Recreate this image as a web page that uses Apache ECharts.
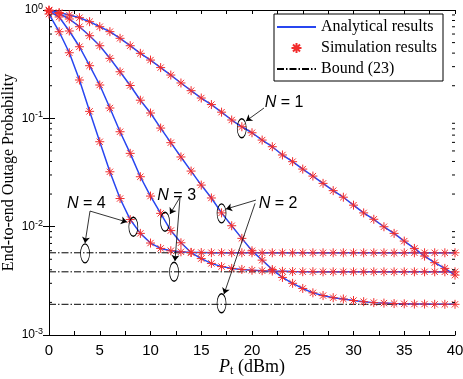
<!DOCTYPE html>
<html>
<head>
<meta charset="utf-8">
<script src="https://cdn.jsdelivr.net/npm/echarts@6/dist/echarts.min.js"></script>
<style>
html, body { margin: 0; padding: 0; background: #fff; }
#chart { width: 463px; height: 379px; }
</style>
</head>
<body>
<div id="chart"></div>
<script>
// transmit power P_t (dBm)
const pt = [0, 1, 2, 3, 4, 5, 6, 7, 8, 9, 10, 11, 12, 13, 14, 15, 16, 17, 18, 19, 20,
  21, 22, 23, 24, 25, 26, 27, 28, 29, 30, 31, 32, 33, 34, 35, 36, 37, 38, 39, 40];

// end-to-end outage probability, one array per N
const outN1 = [1.0, 0.948, 0.899, 0.849, 0.780, 0.701, 0.631, 0.548, 0.468, 0.398, 0.345,
  0.294, 0.251, 0.212, 0.180, 0.154, 0.134, 0.114, 0.0965, 0.0836, 0.0736,
  0.0630, 0.0547, 0.0459, 0.0398, 0.0340, 0.0293, 0.0251, 0.0215, 0.0187, 0.0158,
  0.0134, 0.0117, 0.00998, 0.00867, 0.00736, 0.00630, 0.00535, 0.00465, 0.00412, 0.00357];
const outN2 = [0.99, 0.928, 0.826, 0.701, 0.579, 0.468, 0.358, 0.269, 0.201, 0.147, 0.112,
  0.0813, 0.0596, 0.0440, 0.0326, 0.0242, 0.0184, 0.0134, 0.0102, 0.00780, 0.00599,
  0.00491, 0.00402, 0.00340, 0.00300, 0.00269, 0.00245, 0.00231, 0.00221, 0.00215, 0.00208,
  0.00203, 0.00199, 0.00197, 0.00195, 0.00194, 0.00193, 0.00193, 0.00192, 0.00192, 0.00192];
const outN3 = [0.979, 0.862, 0.640, 0.458, 0.306, 0.203, 0.1245, 0.0752, 0.0475, 0.0289, 0.01916,
  0.01327, 0.00920, 0.00710, 0.00577, 0.00507, 0.00458, 0.00428, 0.00412, 0.00403, 0.00396,
  0.00392, 0.00389, 0.00387, 0.00385, 0.00384, 0.00384, 0.00383, 0.00383, 0.00383, 0.00383,
  0.00383, 0.00383, 0.00383, 0.00383, 0.00383, 0.00383, 0.00383, 0.00383, 0.00383, 0.00383];
const outN4 = [0.918, 0.630, 0.403, 0.2258, 0.1160, 0.0608, 0.0321, 0.01818, 0.01163, 0.00867, 0.00706,
  0.00630, 0.00599, 0.00586, 0.00579, 0.00577, 0.00575, 0.00575, 0.00574, 0.00574, 0.00574,
  0.00574, 0.00574, 0.00574, 0.00574, 0.00574, 0.00574, 0.00574, 0.00574, 0.00574, 0.00574,
  0.00574, 0.00574, 0.00574, 0.00574, 0.00574, 0.00574, 0.00574, 0.00574, 0.00574, 0.00574];

// error floors, bound (23)
const bounds = [0.00574, 0.00383, 0.00192];

// minor ticks of the log axis
const yMinor = [0.002, 0.003, 0.004, 0.005, 0.006, 0.007, 0.008, 0.009,
  0.02, 0.03, 0.04, 0.05, 0.06, 0.07, 0.08, 0.09,
  0.2, 0.3, 0.4, 0.5, 0.6, 0.7, 0.8, 0.9];

// annotations (data coords)
const annLabels = [['1', 23.15, 0.1384], ['2', 22.56, 0.01641], ['3', 12.58, 0.0195], ['4', 3.68, 0.01641]];
const annEllipses = [[18.99, 0.0809], [17.0, 0.01327], [17.0, 0.00196], [11.43, 0.0111],
  [12.32, 0.00383], [8.31, 0.00998], [3.55, 0.00567]];
const annArrows = [
  [[21.18, 0.1245], [19.41, 0.0944]],
  [[20.39, 0.0176], [17.44, 0.01454]],
  [[20.30, 0.01641], [17.24, 0.002386]],
  [[12.91, 0.01877], [11.92, 0.01307]],
  [[12.91, 0.01877], [12.41, 0.00481]],
  [[4.04, 0.01393], [7.68, 0.01103]],
  [[4.04, 0.01393], [3.55, 0.00706]]
];

const blue = '#2846f0';
const red = '#f22d2d';
const star = 'path://M5,0L5,10M0,5L10,5M1.5,1.5L8.5,8.5M8.5,1.5L1.5,8.5';
const ellipse = 'path://M0,10C0,4.5,4.5,0,10,0C15.5,0,20,4.5,20,10C20,15.5,15.5,20,10,20C4.5,20,0,15.5,0,10Z';
const serif = '"Liberation Serif", "Times New Roman", serif';
const sans = '"Liberation Sans", Arial, sans-serif';

const curves = [outN1, outN2, outN3, outN4];
const series = [];

bounds.forEach(b => {
  series.push({
    type: 'line', name: 'Bound (23)', data: [[0, b], [40, b]],
    symbol: 'none', z: 2,
    lineStyle: { color: '#000', width: 1, type: [7, 2, 1.5, 2] },
    itemStyle: { color: '#000' }
  });
});
curves.forEach(c => {
  series.push({
    type: 'line', name: 'Analytical results', data: pt.map((x, i) => [x, c[i]]),
    symbol: 'none', showSymbol: false, z: 3,
    lineStyle: { color: blue, width: 1.5 },
    itemStyle: { color: blue }
  });
});
curves.forEach(c => {
  series.push({
    type: 'scatter', name: 'Simulation results', data: pt.map((x, i) => [x, c[i]]),
    symbol: star, symbolSize: 9, z: 4,
    itemStyle: { color: red, borderColor: red, borderWidth: 1, opacity: 1 }
  });
});

// minor ticks on left and right edges of the log axis
series.push({
  type: 'custom', name: 'minor', silent: true, z: 5,
  data: yMinor.map(v => [0, v]),
  renderItem: function (params, api) {
    const v = api.value(1);
    const l = api.coord([0, v]);
    const r = api.coord([40, v]);
    return {
      type: 'group',
      children: [
        { type: 'line', shape: { x1: l[0], y1: l[1], x2: l[0] + 3, y2: l[1] }, style: { stroke: '#000', lineWidth: 1 } },
        { type: 'line', shape: { x1: r[0], y1: r[1], x2: r[0] - 3, y2: r[1] }, style: { stroke: '#000', lineWidth: 1 } }
      ]
    };
  }
});

// labels, ellipses and arrows
series.push({
  type: 'line', name: 'annot', data: [], silent: true, z: 6,
  markPoint: {
    silent: true,
    data: annEllipses.map(e => ({
      coord: e, symbol: ellipse, symbolSize: [9, 19],
      itemStyle: { color: 'rgba(0,0,0,0)', borderColor: '#000', borderWidth: 1 },
      label: { show: false }
    })).concat(annLabels.map(a => ({
      coord: [a[1], a[2]], symbol: 'circle', symbolSize: 0,
      label: {
        show: true, position: 'inside', formatter: '{i|N} = ' + a[0],
        fontFamily: sans, fontSize: 16, color: '#000',
        rich: { i: { fontStyle: 'italic', fontFamily: sans, fontSize: 16, color: '#000' } }
      }
    })))
  },
  markLine: {
    silent: true, symbol: ['none', 'arrow'], symbolSize: 6,
    label: { show: false },
    lineStyle: { color: '#000', width: 0.8, type: 'solid' },
    data: annArrows.map(a => [{ coord: a[0] }, { coord: a[1] }])
  }
});

const axisLine = { show: true, lineStyle: { color: '#000', width: 1 } };
const noSymbol = { opacity: 0 };

const option = {
  animation: false,
  backgroundColor: '#fff',
  grid: { left: 49, right: 8, top: 10, bottom: 44, containLabel: false, outerBoundsMode: 'none' },
  legend: {
    data: [
      { name: 'Analytical results', itemStyle: noSymbol },
      { name: 'Simulation results' },
      { name: 'Bound (23)', itemStyle: noSymbol }
    ],
    orient: 'vertical', left: 274, top: 14,
    itemWidth: 39, itemHeight: 10, itemGap: 5,
    padding: [5, 6, 4, 2],
    backgroundColor: '#fff', borderColor: '#000', borderWidth: 1,
    textStyle: { fontFamily: serif, fontSize: 16, color: '#000' }
  },
  xAxis: [{
    type: 'value', min: 0, max: 40, interval: 5,
    axisLine: axisLine,
    axisTick: { inside: true, length: 4, lineStyle: { color: '#000' } },
    minorTick: { show: true, splitNumber: 2, length: 4, lineStyle: { color: '#000' } },
    splitLine: { show: false },
    axisLabel: { fontFamily: sans, fontSize: 15, color: '#000', margin: 8 },
    name: '{p|P}{t|t}{r| (dBm)}', nameLocation: 'middle', nameGap: 22,
    nameMoveOverlap: false,
    nameTextStyle: {
      fontFamily: serif, fontSize: 17, color: '#000',
      rich: {
        p: { fontFamily: serif, fontStyle: 'italic', fontSize: 18, color: '#000' },
        t: { fontFamily: serif, fontSize: 12, color: '#000', padding: [8, 0, 0, 0] },
        r: { fontFamily: serif, fontSize: 18, color: '#000' }
      }
    }
  }, {
    type: 'value', min: 0, max: 40, interval: 5, position: 'top',
    axisLine: axisLine,
    axisTick: { inside: true, length: 4, lineStyle: { color: '#000' } },
    minorTick: { show: true, splitNumber: 2, length: 4, lineStyle: { color: '#000' } },
    splitLine: { show: false },
    axisLabel: { show: false }
  }],
  yAxis: [{
    type: 'log', logBase: 10, min: 0.001, max: 1,
    axisLine: axisLine,
    axisTick: { inside: true, length: 6, lineStyle: { color: '#000' } },
    splitLine: { show: false },
    axisLabel: {
      margin: 6, color: '#000',
      formatter: v => '{b|10}{s|' + Math.round(Math.log10(v)) + '}',
      rich: {
        b: { fontFamily: sans, fontSize: 12, color: '#000' },
        s: { fontFamily: sans, fontSize: 9, color: '#000', padding: [0, 0, 7, 0] }
      }
    },
    name: 'End-to-end Outage Probability', nameLocation: 'middle', nameGap: 32,
    nameMoveOverlap: false,
    nameTextStyle: { fontFamily: serif, fontSize: 16, color: '#000' }
  }, {
    type: 'log', logBase: 10, min: 0.001, max: 1, position: 'right',
    axisLine: axisLine,
    axisTick: { inside: true, length: 6, lineStyle: { color: '#000' } },
    splitLine: { show: false },
    axisLabel: { show: false }
  }],
  series: series
};

const chart = echarts.init(document.getElementById('chart'));
chart.setOption(option);
</script>
</body>
</html>
